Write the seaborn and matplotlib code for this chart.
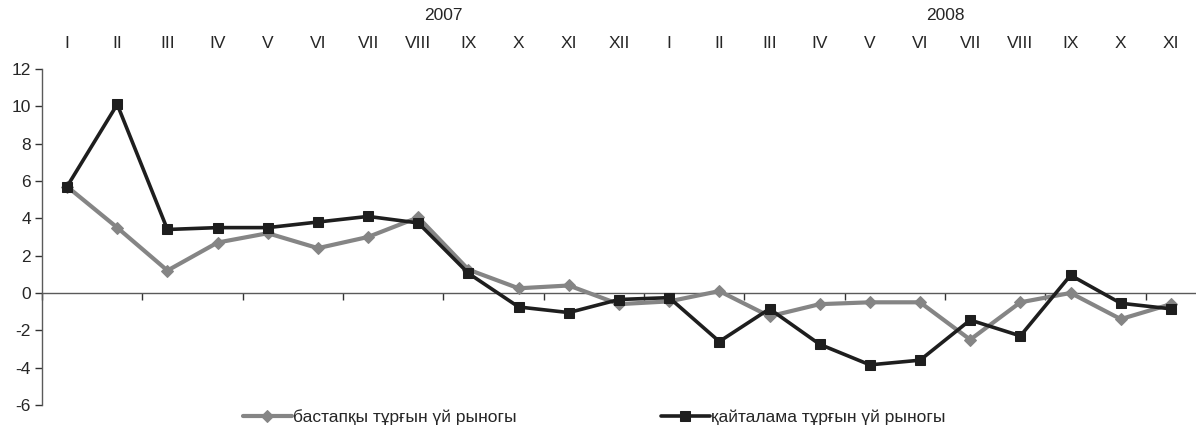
import matplotlib
matplotlib.use("Agg")
import matplotlib.pyplot as plt
import matplotlib.transforms as mtransforms
import seaborn as sns
import pandas as pd

# Data
months = ["I", "II", "III", "IV", "V", "VI", "VII", "VIII", "IX", "X", "XI", "XII",
          "I", "II", "III", "IV", "V", "VI", "VII", "VIII", "IX", "X", "XI"]
years = ["2007", "2008"]
year_pos = [7.5, 17.5]

primary_label = "бастапқы тұрғын үй рыногы"
secondary_label = "қайталама тұрғын үй рыногы"

primary = [5.7, 3.5, 1.2, 2.7, 3.2, 2.4, 3.0, 4.05, 1.25, 0.25, 0.4, -0.6,
           -0.45, 0.1, -1.25, -0.6, -0.5, -0.5, -2.5, -0.5, 0.0, -1.4, -0.6]
secondary = [5.7, 10.1, 3.4, 3.5, 3.5, 3.8, 4.1, 3.75, 1.05, -0.75, -1.05, -0.35,
             -0.25, -2.6, -0.85, -2.75, -3.85, -3.6, -1.45, -2.3, 0.95, -0.55, -0.85]

GRAY = "#858585"
DARK = "#1e1e1e"
FS = 12.5

df = pd.DataFrame({"pos": range(len(months)), "primary": primary, "secondary": secondary})

sns.set_style("white")
plt.rcParams["font.family"] = ["Liberation Sans", "DejaVu Sans"]
plt.rcParams["axes.unicode_minus"] = False

fig = plt.figure(figsize=(11.96, 4.32), dpi=100)
ax = fig.add_axes([0.0351, 0.0625, 0.9649, 0.778])

sns.lineplot(data=df, x="pos", y="primary", ax=ax, color=GRAY, linewidth=3.0,
             marker="D", markersize=6.5, markeredgecolor=GRAY, label=primary_label)
sns.lineplot(data=df, x="pos", y="secondary", ax=ax, color=DARK, linewidth=2.6,
             marker="s", markersize=7.5, markeredgecolor=DARK, label=secondary_label)

ax.set_xlim(-0.5, len(months) - 0.5)
ax.set_ylim(-6, 12)
ax.set_xlabel("")
ax.set_ylabel("")

# axes look: x axis sits on zero, ticks at every second category boundary
for s in ["top", "right"]:
    ax.spines[s].set_visible(False)
ax.spines["bottom"].set_position(("data", 0))
for s in ["left", "bottom"]:
    ax.spines[s].set_color("#5a5a5a")
    ax.spines[s].set_linewidth(1.0)
ax.spines["bottom"].set_zorder(1)

ax.set_xticks([-0.5 + 2 * k for k in range(12)])
ax.set_xticklabels([])
ax.tick_params(axis="x", direction="out", length=5, width=1, color="#333333", bottom=True)
ax.set_yticks(range(-6, 13, 2))
ax.tick_params(axis="y", direction="out", length=5, width=1, color="#333333", left=True,
               labelsize=FS, pad=3)

# month and year labels above the plot
trans = mtransforms.blended_transform_factory(ax.transData, fig.transFigure)
for i, m in enumerate(months):
    ax.text(i, 1 - 43 / 432, m, transform=trans, ha="center", va="center", fontsize=FS)
for y, p in zip(years, year_pos):
    ax.text(p, 1 - 16 / 432, y, transform=trans, ha="center", va="center", fontsize=FS)

ax.legend_.remove()
handles, labels = ax.get_legend_handles_labels()
fig.legend(handles, labels, loc="center", bbox_to_anchor=(0.497, 15 / 432), ncol=2,
           frameon=False, fontsize=FS, handlelength=2.8, handletextpad=0.1,
           columnspacing=8.3, borderaxespad=0)

fig.savefig("out.png", dpi=100)
